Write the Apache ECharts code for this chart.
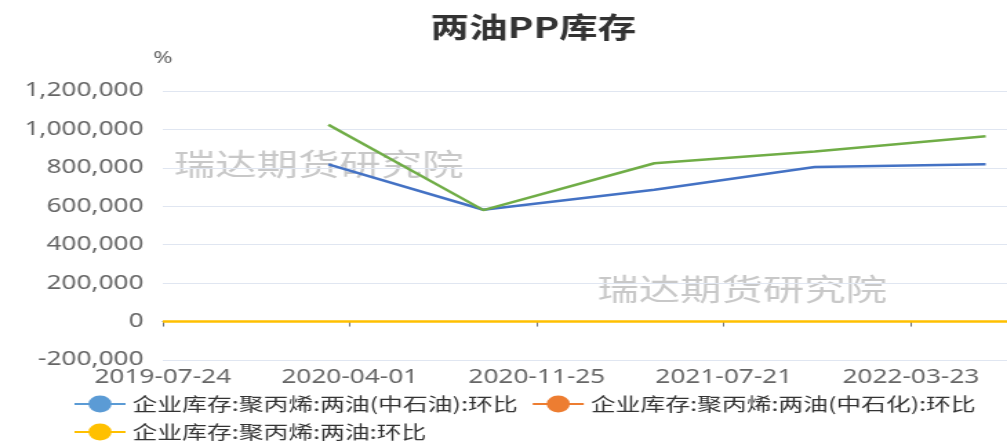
<!DOCTYPE html>
<html>
<head>
<meta charset="utf-8">
<script src="https://cdn.jsdelivr.net/npm/echarts@6/dist/echarts.min.js"></script>
<style>
  html, body { margin: 0; padding: 0; background: #fff; overflow: hidden; }
  /* the picture is stretched sideways, so draw narrower and scale x */
  #main { width: 730px; height: 442px; transform: scaleX(1.3795); transform-origin: 0 0; }
</style>
</head>
<body>
<div id="main"></div>
<script>
// tick labels shown on the x axis
const tickLabels = ['2019-07-24', '2020-04-01', '2020-11-25', '2021-07-21', '2022-03-23'];

// dates where the two company series have values
const pointDates = ['2020-03-04', '2020-09-16', '2021-04-21', '2021-11-17', '2022-06-29'];
const cnpcValues = [818000, 582000, 686000, 804000, 819000];
const sinopecValues = [1024000, 580000, 824000, 885000, 965000];

// combined series sits at zero over the whole range
const totalDates = ['2019-07-24', '2020-03-04', '2020-09-16', '2021-04-21', '2021-11-17', '2022-06-29', '2022-07-27'];
const totalValues = [0, 0, 0, 0, 0, 0, 0];

const seriesNames = [
    '企业库存:聚丙烯:两油(中石油):环比',
    '企业库存:聚丙烯:两油(中石化):环比',
    '企业库存:聚丙烯:两油:环比'
];
const legendColors = ['#5b9bd5', '#ed7d31', '#ffc000'];
const lineColors = ['#4472c4', '#70ad47', '#ffc000'];

const yTicks = [-200000, 1200000, 200000];   // min, max, step

const PER_SEGMENT = 35;
const TAIL = 18;

function toDay(s) {
    return Date.UTC(+s.slice(0, 4), +s.slice(5, 7) - 1, +s.slice(8, 10)) / 864e5;
}

function buildCategories() {
    var days = [];
    for (var i = 0; i < tickLabels.length - 1; i++) {
        var a = toDay(tickLabels[i]), b = toDay(tickLabels[i + 1]);
        for (var j = 0; j < PER_SEGMENT; j++) days.push(Math.round(a + j * (b - a) / PER_SEGMENT));
    }
    var last = toDay(tickLabels[tickLabels.length - 1]);
    for (var k = 0; k <= TAIL; k++) days.push(last + k * 7);
    return days.map(function (d) { return new Date(d * 864e5).toISOString().slice(0, 10); });
}

const categories = buildCategories();
const catDays = categories.map(toDay);

function toSeries(dates, values) {
    var arr = categories.map(function () { return null; });
    dates.forEach(function (d, i) {
        var day = toDay(d), best = 0;
        catDays.forEach(function (c, idx) {
            if (Math.abs(c - day) < Math.abs(catDays[best] - day)) best = idx;
        });
        arr[best] = values[i];
    });
    return arr;
}

function showTick(index, value) {
    return tickLabels.indexOf(value) >= 0;
}

var seriesData = [
    toSeries(pointDates, cnpcValues),
    toSeries(pointDates, sinopecValues),
    toSeries(totalDates, totalValues)
];

var chart = echarts.init(document.getElementById('main'));

chart.setOption({
    animation: false,
    title: {
        text: '两油PP库存',
        left: 307,
        top: 8,
        textStyle: { fontSize: 28, fontWeight: 'bold', color: '#333', fontFamily: 'Noto Sans CJK SC' }
    },
    graphic: [
        {
            type: 'text', left: 126, top: 149, z: 0, silent: true,
            style: { text: '瑞达期货研究院', fontSize: 30, fill: 'rgba(110,110,110,0.38)', fontFamily: 'Noto Sans CJK SC' }
        },
        {
            type: 'text', left: 433, top: 274, z: 0, silent: true,
            style: { text: '瑞达期货研究院', fontSize: 30, fill: 'rgba(110,110,110,0.38)', fontFamily: 'Noto Sans CJK SC' }
        }
    ],
    legend: {
        left: 48,
        top: 390,
        width: 680,
        itemWidth: 37,
        itemHeight: 21,
        itemGap: 10,
        textStyle: { fontSize: 18, color: '#333', fontFamily: 'Noto Sans CJK SC', padding: [0, 13, 0, 0] },
        data: seriesNames.map(function (n, i) {
            return { name: n, itemStyle: { color: legendColors[i] }, lineStyle: { color: legendColors[i] } };
        })
    },
    grid: {
        left: 118,
        right: 0,
        top: 91,
        bottom: 82,
        outerBoundsMode: 'none'
    },
    xAxis: {
        type: 'category',
        boundaryGap: false,
        data: categories,
        axisLine: { onZero: true, lineStyle: { color: '#6e7079' } },
        axisTick: { interval: showTick, length: 5, lineStyle: { color: '#6e7079' } },
        axisLabel: {
            interval: showTick,
            margin: 8,
            fontSize: 19,
            color: '#666',
            fontFamily: 'Noto Sans'
        },
        splitLine: { show: false }
    },
    yAxis: {
        type: 'value',
        min: yTicks[0],
        max: yTicks[1],
        interval: yTicks[2],
        name: '%',
        nameGap: 24,
        nameTextStyle: { fontSize: 17, color: '#666', fontFamily: 'Noto Sans' },
        axisLine: { show: false },
        axisTick: { show: false },
        axisLabel: { fontSize: 19, color: '#666', margin: 14, fontFamily: 'Noto Sans' },
        splitLine: { lineStyle: { color: '#e0e6f1' } }
    },
    series: seriesNames.map(function (n, i) {
        return {
            name: n,
            type: 'line',
            data: seriesData[i],
            connectNulls: true,
            symbol: 'circle',
            showSymbol: false,
            itemStyle: { color: legendColors[i] },
            lineStyle: { color: lineColors[i], width: 2.5 },
            z: 3
        };
    })
});
</script>
</body>
</html>
